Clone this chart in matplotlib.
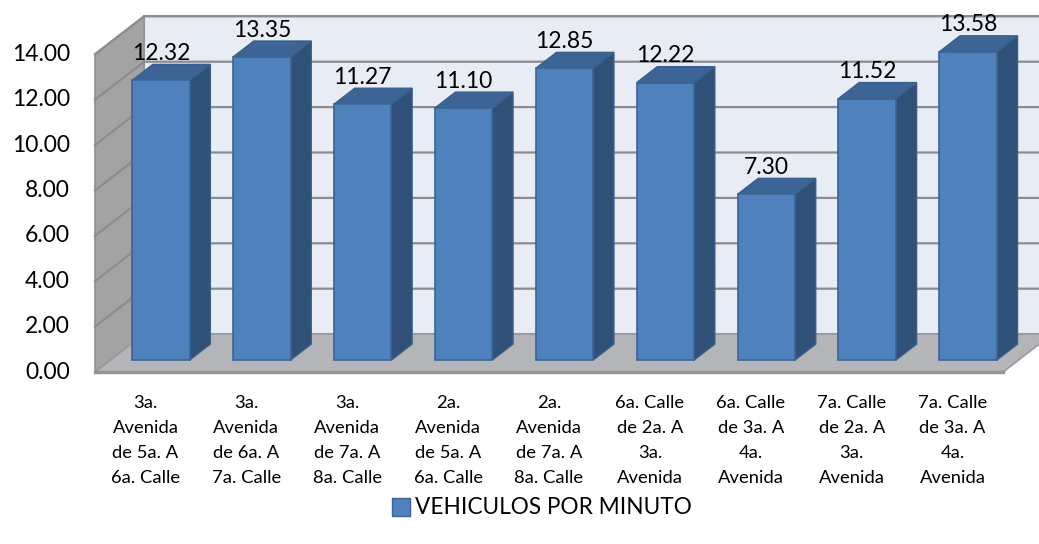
import numpy as np
import matplotlib.pyplot as plt
from matplotlib.patches import Polygon

# === Datos ===
categorias = [
    "3a.\nAvenida\nde 5a. A\n6a. Calle",
    "3a.\nAvenida\nde 6a. A\n7a. Calle",
    "3a.\nAvenida\nde 7a. A\n8a. Calle",
    "2a.\nAvenida\nde 5a. A\n6a. Calle",
    "2a.\nAvenida\nde 7a. A\n8a. Calle",
    "6a. Calle\nde 2a. A\n3a.\nAvenida",
    "6a. Calle\nde 3a. A\n4a.\nAvenida",
    "7a. Calle\nde 2a. A\n3a.\nAvenida",
    "7a. Calle\nde 3a. A\n4a.\nAvenida",
]
vehiculos = [12.32, 13.35, 11.27, 11.10, 12.85, 12.22, 7.30, 11.52, 13.58]
ticks_y = [0, 2, 4, 6, 8, 10, 12, 14]
serie = "VEHICULOS POR MINUTO"

# === Proyección pseudo 3D (profundidad z en [0, 1]) ===
DX = 0.486   # desplazamiento en x por unidad de profundidad (categorías)
DY = 1.67    # desplazamiento en y por unidad de profundidad (valores)
Z_BAR0, Z_BAR1 = 0.316, 0.737
ANCHO = 0.57
YMAX = 14


def p(x, y, z):
    return (x + z * DX, y + z * DY)


fig = plt.figure(figsize=(10.39, 5.44), dpi=100)
ax = fig.add_axes([0, 0, 1, 1])
ax.set_xlim(-0.9415, 9.356)
ax.set_ylim(-7.577, 16.388)
ax.axis('off')

n = len(vehiculos)
grid_c = '#8c8c8c'

# pared de fondo
ax.add_patch(Polygon([p(0, 0, 1), p(n, 0, 1), p(n, YMAX, 1), p(0, YMAX, 1)],
                     closed=True, fc='#e8ecf5', ec='#a0a0a0', lw=1.5, zorder=1))
# pared lateral
ax.add_patch(Polygon([p(0, 0, 0), p(0, 0, 1), p(0, YMAX, 1), p(0, YMAX, 0)],
                     closed=True, fc='#a3a3a3', ec='#909090', lw=1.2, zorder=1))
# líneas de cuadrícula
for v in ticks_y[1:]:
    xs, ys = zip(p(0, v, 0), p(0, v, 1), p(n, v, 1))
    ax.plot(xs, ys, color=grid_c, lw=1.6, zorder=2)
# piso
ax.add_patch(Polygon([p(0, 0, 0), p(n, 0, 0), p(n, 0, 1), p(0, 0, 1)],
                     closed=True, fc='#b3b5b8', ec='#9a9a9a', lw=1.2, zorder=2))
xs, ys = zip(p(0, 0, 0), p(n, 0, 0))
ax.plot(xs, ys, color='#959595', lw=2.5, zorder=2)

# === Barras ===
for i, v in enumerate(vehiculos):
    x0 = i + 0.5 - ANCHO / 2
    x1 = i + 0.5 + ANCHO / 2
    frente = [p(x0, 0, Z_BAR0), p(x1, 0, Z_BAR0), p(x1, v, Z_BAR0), p(x0, v, Z_BAR0)]
    lado = [p(x1, 0, Z_BAR0), p(x1, 0, Z_BAR1), p(x1, v, Z_BAR1), p(x1, v, Z_BAR0)]
    tapa = [p(x0, v, Z_BAR0), p(x1, v, Z_BAR0), p(x1, v, Z_BAR1), p(x0, v, Z_BAR1)]
    ax.add_patch(Polygon(lado, closed=True, fc='#2f5077', ec='#3b5f8a', lw=1, zorder=3))
    ax.add_patch(Polygon(tapa, closed=True, fc='#3c6495', ec='#3b5f8a', lw=1, zorder=3))
    ax.add_patch(Polygon(frente, closed=True, fc='#4f81bd', ec='#3b6496', lw=1.2, zorder=4))
    xt, yt = p(i + 0.5, v, Z_BAR0)
    ax.text(xt, yt + 0.72, f"{v:.2f}", ha='center', va='bottom',
            fontsize=16.5, family='Lato', color='black', zorder=5)

# etiquetas eje y
for v in ticks_y:
    ax.text(-0.25, v, f"{v:.2f}", ha='right', va='center', fontsize=16.5, family='Lato')

# etiquetas categorías
for i, c in enumerate(categorias):
    ax.text(i + 0.5, -1.02, c, ha='center', va='top', fontsize=13.2,
            family='Lato', linespacing=1.7)

# leyenda
ax.scatter([3.03], [-5.95], marker='s', s=170, c='#4f81bd', edgecolors='#3b6496',
           linewidths=1)
ax.text(3.17, -5.95, serie, ha='left', va='center', fontsize=16.3, family='Lato')

fig.savefig('out.png', dpi=100)
